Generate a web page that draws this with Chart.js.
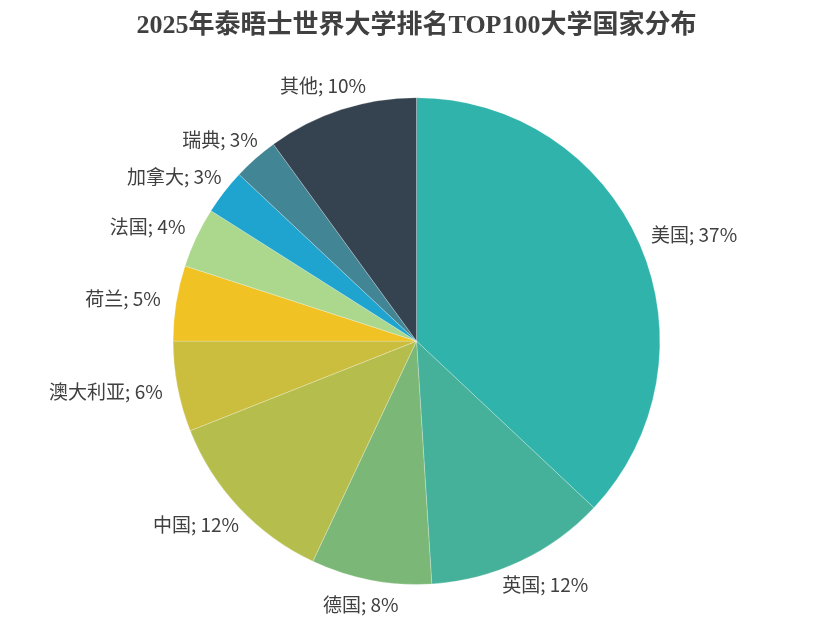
<!DOCTYPE html>
<html>
<head>
<meta charset="utf-8">
<script src="https://cdn.jsdelivr.net/npm/chart.js@4/dist/chart.umd.min.js"></script>
<style>
  html, body { margin: 0; padding: 0; background: #fff; }
  #wrap { width: 833px; height: 635px; }
</style>
</head>
<body>
<div id="wrap"><canvas id="myChart"></canvas></div>
<script>
// country shares, clockwise from the top
const countries = ["美国", "英国", "德国", "中国", "澳大利亚", "荷兰", "法国", "加拿大", "瑞典", "其他"];
const shares = [37, 12, 8, 12, 6, 5, 4, 3, 3, 10];
const sliceColors = ["#2fb3ab", "#45b19a", "#7bb776", "#b5be4c", "#cbbe3f",
                     "#f0c224", "#acd88e", "#1ea4cf", "#428696", "#354350"];

// labels outside the pie, "name; xx%"
const outsideLabels = {
    id: 'outsideLabels',
    afterDatasetsDraw(chart) {
        const ctx = chart.ctx;
        const meta = chart.getDatasetMeta(0);
        ctx.save();
        ctx.font = "19px 'Noto Sans CJK SC', sans-serif";
        ctx.fillStyle = "#404040";
        ctx.textAlign = "left";
        ctx.textBaseline = "middle";
        meta.data.forEach((arc, i) => {
            const p = arc.getProps(['x', 'y', 'startAngle', 'endAngle', 'outerRadius'], true);
            const a = (p.startAngle + p.endAngle) / 2;
            const r = p.outerRadius + 16;
            const px = p.x + r * Math.cos(a);
            const py = p.y + r * Math.sin(a);
            const text = countries[i] + "; " + shares[i] + "%";
            const w = ctx.measureText(text).width;
            const h = 19;
            const xl = px - w * (1 - Math.cos(a)) / 2;
            const yc = py + (h / 2) * Math.sin(a);
            ctx.fillText(text, xl, yc);
        });
        ctx.restore();
    }
};

new Chart("myChart", {
    type: "pie",
    data: {
        labels: countries,
        datasets: [{
            data: shares,
            backgroundColor: sliceColors,
            borderColor: "rgba(255,255,255,0.25)",
            borderWidth: 1
        }]
    },
    options: {
        responsive: true,
        maintainAspectRatio: false,
        animation: false,
        layout: { padding: { top: 0, bottom: 50, left: 0, right: 0 } },
        plugins: {
            legend: { display: false },
            tooltip: { enabled: false },
            title: {
                display: true,
                text: "2025年泰晤士世界大学排名TOP100大学国家分布",
                color: "#404040",
                font: { family: "'Liberation Serif', 'Noto Sans CJK SC', serif", size: 26, weight: "bold" },
                padding: { top: 11, bottom: 55 }
            }
        }
    },
    plugins: [outsideLabels]
});
</script>
</body>
</html>
